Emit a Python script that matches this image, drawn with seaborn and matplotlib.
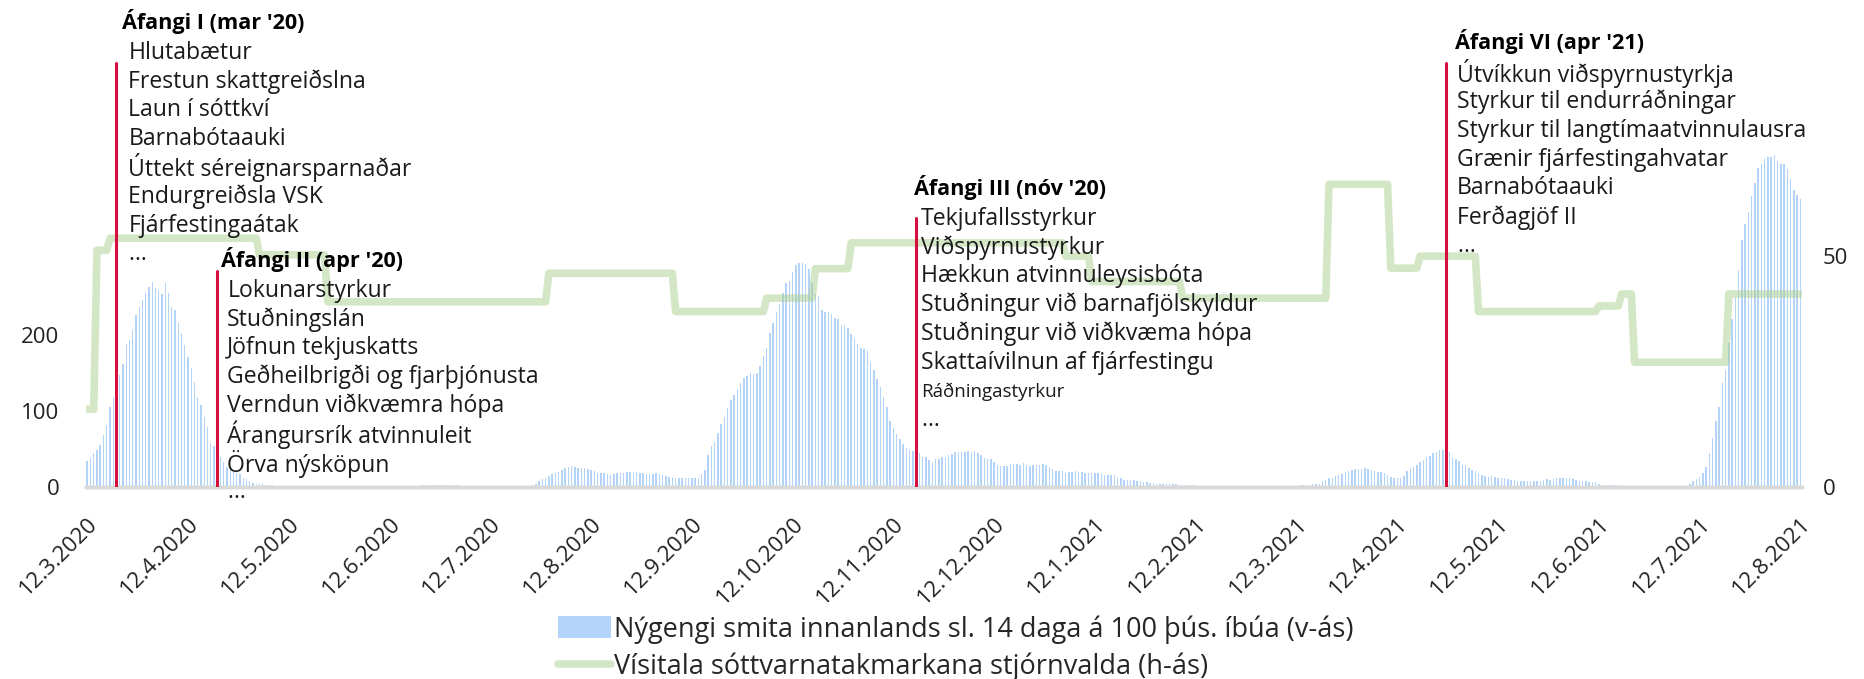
import numpy as np
import pandas as pd
import matplotlib
matplotlib.use("Agg")
import matplotlib.pyplot as plt
import seaborn as sns
from matplotlib.patches import Patch
from matplotlib.lines import Line2D

# Nýgengi smita innanlands sl. 14 daga á 100 þús. íbúa, one value per day from 12.3.2020
incidence = [
    34, 38, 45, 48, 55, 68, 81, 105, 118, 135,
    147, 162, 188, 193, 206, 226, 237, 246, 255, 263, 270, 261, 259, 254, 268, 255, 237, 232, 216, 202,
    186, 171, 156, 138, 118, 107, 92, 79, 57, 53,
    46, 39, 33, 26, 23, 20, 18, 17, 12, 10, 7, 5, 4,
    3, 3, 2, 2, 2, 1, 1, 1,
    1, 1, 1, 1, 1, 1, 0.5, 0.5, 0.5, 0.5, 0.5, 0.5, 0.5, 0.5, 0.5, 0.5, 0.5, 0.5,
    0.5, 0.5, 0.5, 0.5, 0.5, 0.5, 0.5, 0.5, 0.5, 0.5, 0.5, 0.5, 0.5, 0.5, 0.5, 0.5, 0.5, 0.5,
    1, 1, 1, 1.5, 1.5, 1.5, 2, 2, 2, 2, 2, 2, 2, 2, 2, 2, 2, 2, 1.5, 1.5, 1.5, 1.5, 1, 1, 1,
    0.5, 0.5, 0.5, 0.5, 0.5, 0.5, 0.5, 0.5, 0.5, 0.5, 0.5, 0.5, 1, 1, 1.5,
    2, 4, 7, 10, 12, 14, 17, 18, 20, 22, 24, 26, 27, 26, 25, 24, 24, 23, 22, 21,
    18, 18, 18, 17, 15, 17, 18, 18, 18, 19, 19, 19, 19, 18, 18, 17, 17, 17, 18, 17,
    15, 14, 13, 13, 12, 12, 12, 11, 11, 11, 11, 12, 17, 22,
    42, 53, 59, 71, 83, 92, 103, 114, 121, 129, 137, 143, 146, 150, 148, 150, 159, 172, 183, 202,
    216, 230, 241, 255, 268, 271, 283, 292, 294, 295, 293, 287, 268, 254,
    251, 232, 230, 230, 227, 222, 221, 212, 213, 209, 201, 196, 188, 183, 181, 178, 164, 153, 142, 131,
    118, 105, 87, 77, 69, 63, 56, 51, 48, 47, 45,
    44, 39, 39, 35, 33, 36, 36, 39, 39, 42, 43, 46, 46, 46, 46, 47, 46, 47, 45, 42,
    38, 36, 36, 32, 29, 27, 27, 27, 30, 30, 30, 29, 31, 29, 27, 28, 28, 29, 30, 29, 26,
    23, 21, 21, 21, 18, 19, 19, 21, 20, 20, 18, 18, 18, 18, 18, 17, 15, 15, 15, 15, 12,
    11, 9, 9, 9, 9, 8, 7, 6, 6, 5, 5, 4, 4, 3, 3, 3, 3, 3, 2, 2,
    2, 2, 2, 2, 1.5, 1.5, 1.5, 1.5, 1.5, 1, 1, 1, 1, 1, 1,
    0.3, 0.3, 0.3, 0.3, 0.3, 0.3, 0.3, 0.3, 0.3, 0.3,
    1, 1, 1, 1, 1.5, 1.5, 1.5, 1.5, 1.5, 1.5, 2, 2, 2, 2, 3, 3,
    3, 7, 9, 11, 12, 14, 15, 17, 20, 21, 22, 23, 23, 23, 24, 23, 22, 21, 20, 19,
    18, 16, 13, 12, 12, 11, 14, 21, 25, 26, 29, 32, 35, 39, 40, 44, 46, 48, 48, 48,
    46, 39, 36, 34, 29, 28, 24, 22, 21, 18, 16, 14, 13, 14, 13, 12, 11, 11, 10, 9,
    9, 7, 7, 7, 7, 8, 8, 8, 8, 9, 10, 9, 10, 11, 11, 11, 11, 11, 10, 9,
    8, 7, 7, 6, 6, 6, 3, 2, 2, 2, 2, 2, 2, 2,
    1, 1, 1, 1, 1, 1, 1, 1, 1, 1, 1, 1, 1, 1, 1, 1, 1, 1, 1,
    2, 4, 7, 10, 13, 18, 26, 44, 64, 86, 105, 136, 154, 189, 221, 250, 285, 325, 346, 362,
    382, 399, 419, 425, 431, 434, 434, 436, 428, 425, 425, 418, 405, 390, 384, 378,
]

# Vísitala sóttvarnatakmarkana: level and how many days it held
stringency_levels = [16.8, 51.3, 53.9, 50.3, 40.1, 46.3, 38.0, 40.9, 47.3, 52.9, 50.0,
                     44.5, 40.9, 65.6, 47.4, 50.0, 38.0, 39.2, 41.8, 27.0, 41.8]
stringency_days = [3, 4, 46, 21, 68, 39, 28, 15, 11, 66, 8,
                   28, 45, 19, 9, 18, 37, 7, 4, 29, 23]

tick_labels = ['12.3.2020', '12.4.2020', '12.5.2020', '12.6.2020', '12.7.2020', '12.8.2020',
               '12.9.2020', '12.10.2020', '12.11.2020', '12.12.2020', '12.1.2021', '12.2.2021',
               '12.3.2021', '12.4.2021', '12.5.2021', '12.6.2021', '12.7.2021', '12.8.2021']

phase_titles = ["Áfangi I (mar '20)", "Áfangi II (apr '20)", "Áfangi III (nóv '20)", "Áfangi VI (apr '21)"]
phase_day = [9, 40, 255, 418]
phase_items = [
    ['Hlutabætur', 'Frestun skattgreiðslna', 'Laun í sóttkví', 'Barnabótaauki',
     'Úttekt séreignarsparnaðar', 'Endurgreiðsla VSK', 'Fjárfestingaátak', '…'],
    ['Lokunarstyrkur', 'Stuðningslán', 'Jöfnun tekjuskatts', 'Geðheilbrigði og fjarþjónusta',
     'Verndun viðkvæmra hópa', 'Árangursrík atvinnuleit', 'Örva nýsköpun', '…'],
    ['Tekjufallsstyrkur', 'Viðspyrnustyrkur', 'Hækkun atvinnuleysisbóta', 'Stuðningur við barnafjölskyldur',
     'Stuðningur við viðkvæma hópa', 'Skattaívilnun af fjárfestingu', 'Ráðningastyrkur', '…'],
    ['Útvíkkun viðspyrnustyrkja', 'Styrkur til endurráðningar', 'Styrkur til langtímaatvinnulausra',
     'Grænir fjárfestingahvatar', 'Barnabótaauki', 'Ferðagjöf II', '…'],
]

stringency = np.repeat(stringency_levels, stringency_days)
days = np.arange(len(incidence))
assert len(stringency) == len(incidence)
df = pd.DataFrame({'dagur': days, 'nygengi': incidence, 'visitala': stringency})

# layout (figure pixels from top)
line_top = [63, 271, 218, 63]
title_y = [21, 259, 187, 41.5]
title_dx = [6, 4, -2, 9]
item_dx = [12, 10, 5, 11]
line_step = 28.8
item_shift = 3

bar_col = '#b4d3f8'
green = '#a9d18e'
red = '#d50f3e'

sns.set_style('white')
plt.rcParams['font.family'] = ['Open Sans', 'DejaVu Sans']

W, H = 1865, 679
fig = plt.figure(figsize=(W / 100, H / 100), dpi=100)
ax_bottom = 486.7
ax = fig.add_axes([85.6 / W, (H - ax_bottom) / H, (1802 - 85.6) / W, ax_bottom / H])

sns.barplot(data=df, x='dagur', y='nygengi', native_scale=True, color=bar_col, width=0.45,
            saturation=1, linewidth=0, errorbar=None, ax=ax)
ax.set_xlim(-0.5, len(days) - 0.5)
ax.set_ylim(0, ax_bottom / 0.76)
ax.set_yticks([0, 100, 200])
ax.set_xticks(np.arange(0, len(days), 31))
ax.set_xticklabels(tick_labels, rotation=45, ha='right', va='top', rotation_mode='anchor')
ax.set_xlabel('')
ax.set_ylabel('')

ax2 = ax.twinx()
sns.lineplot(data=df, x='dagur', y='visitala', color=green, alpha=0.5, linewidth=5.5, ax=ax2)
ax2.set_ylim(0, ax_bottom / 4.61)
ax2.set_yticks([0, 50])
ax2.set_ylabel('')
ax2.set_xlim(-0.5, len(days) - 0.5)

for a in (ax, ax2):
    for s in ['top', 'left', 'right']:
        a.spines[s].set_visible(False)
    a.spines['bottom'].set_color('#d9d9d9')
    a.spines['bottom'].set_linewidth(2.5)
ax.tick_params(axis='y', length=0, pad=19, labelsize=16, labelcolor='#222222')
ax.tick_params(axis='x', length=0, pad=19, labelsize=16, labelcolor='#222222')
ax2.tick_params(axis='y', length=0, pad=15, labelsize=16, labelcolor='#222222')

for k, title in enumerate(phase_titles):
    d = phase_day[k]
    ax2.axvline(d, ymin=0, ymax=(ax_bottom - line_top[k]) / ax_bottom, color=red, lw=2.2, zorder=3)
    ax2.annotate(title, xy=(d, H - title_y[k]), xycoords=('data', 'figure pixels'),
                 xytext=(title_dx[k], 0), textcoords='offset pixels',
                 fontsize=15.6, fontweight='bold', va='center', ha='left', color='black')
    for j, item in enumerate(phase_items[k]):
        fs = 13.5 if item == 'Ráðningastyrkur' else 16.6
        yy = H - title_y[k] - item_shift - line_step * (j + 1)
        ax2.annotate(item, xy=(d, yy), xycoords=('data', 'figure pixels'),
                     xytext=(item_dx[k], 0), textcoords='offset pixels',
                     fontsize=fs, va='center', ha='left', color='#1a1a1a')

handles = [Patch(facecolor=bar_col, edgecolor='none'),
           Line2D([0], [0], color=green, alpha=0.5, lw=5.5)]
labels = ['Nýgengi smita innanlands sl. 14 daga á 100 þús. íbúa (v-ás)',
          'Vísitala sóttvarnatakmarkana stjórnvalda (h-ás)']
fig.legend(handles, labels, loc='upper left', bbox_to_anchor=(558 / W, 1 - 615 / H),
           frameon=False, fontsize=19.5, handlelength=1.95, handleheight=0.9,
           handletextpad=0.12, labelspacing=0.34, borderpad=0, borderaxespad=0)

fig.savefig('out.png', dpi=100)
